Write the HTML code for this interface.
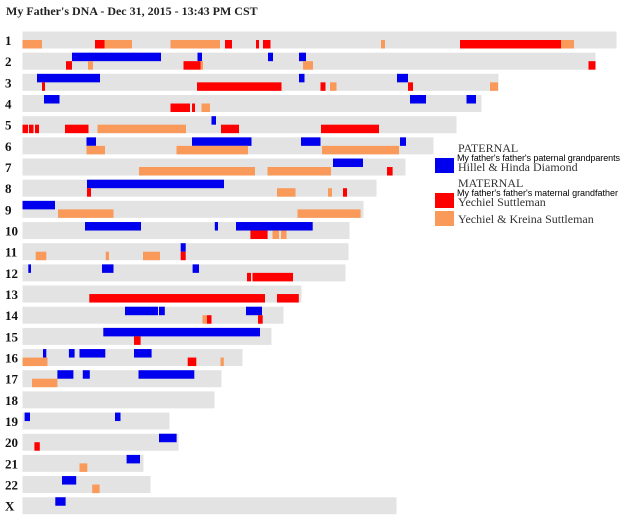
<!DOCTYPE html>
<html><head><meta charset="utf-8"><style>
body{margin:0;background:#fff;width:640px;height:525px;overflow:hidden}
svg{display:block}
</style></head><body>
<svg id="chart" width="640" height="525" xmlns="http://www.w3.org/2000/svg">
<text x="6" y="15" font-family="Liberation Serif, serif" font-weight="bold" font-size="12" fill="#222">My Father's DNA - Dec 31, 2015 - 13:43 PM CST</text>
<g font-family="Liberation Serif, serif" fill="#333">
<text x="458" y="152" font-size="12">PATERNAL</text>
<text x="457" y="161" font-size="9" font-family="Liberation Sans, sans-serif" fill="#000" textLength="163">My father's father's paternal grandparents</text>
<rect x="435" y="158" width="19" height="15" fill="#0000ee"/>
<text x="458" y="171" font-size="12">Hillel &amp; Hinda Diamond</text>
<text x="458" y="187" font-size="12">MATERNAL</text>
<text x="457" y="196" font-size="9" font-family="Liberation Sans, sans-serif" fill="#000" textLength="161">My father's father's maternal grandfather</text>
<rect x="435" y="193" width="19" height="15" fill="#ff0000"/>
<text x="458" y="206" font-size="12">Yechiel Suttleman</text>
<rect x="435" y="211" width="19" height="15" fill="#f9995a"/>
<text x="458" y="223" font-size="12">Yechiel &amp; Kreina Suttleman</text>
</g>
<g id="rows"></g>
</svg>
<script>
const chromosomes=["1","2","3","4","5","6","7","8","9","10","11","12","13","14","15","16","17","18","19","20","21","22","X"];
const chromLengths=[594,573,476,459,434,411,383,354,341,327,326,323,279,261,249,220,199,192,147,156,121,128,374];
// segments: [chromIndex, start, end, type(B/R/O)], blue = top half, red/orange = bottom half
const blueSegments=[
[1,49.5,138.5],[1,175,179.5],[1,245.5,250.5],[1,276.5,283.5],
[2,14.5,77.5],[2,276.5,282],[2,374.5,385.5],
[3,21.5,37],[3,387.5,403.5],[3,444,453.5],
[4,189,193.5],
[5,64,73.5],[5,169.5,229],[5,278.5,298],[5,377.5,383.5],
[6,310.5,340.5],
[7,64.5,201.5],
[8,0,32.5],
[9,62.5,118.5],[9,192.3,195.5],[9,213.5,290.2],
[10,158.2,163.2],
[11,5.8,8.5],[11,79.5,91],[11,170.1,176.5],
[13,102.5,135.5],[13,136.5,142.3],[13,223.5,239.5],
[14,80.8,237.5],
[15,20.5,23.8],[15,46.4,52.1],[15,57,82.8],[15,111.5,129.1],
[16,34.9,50.9],[16,60.3,67.3],[16,116,171.8],
[18,2.1,7.5],[18,92.5,98],
[19,136.5,154.1],
[20,104.1,117.5],
[21,39.5,53.7],
[22,32.8,43.1]
];
const redSegments=[
[0,72.5,82],[0,202.5,209.5],[0,233.5,236.5],[0,240.5,248],[0,437.5,538.5],
[1,43.5,49.5],[1,161,178],[1,566,573],
[2,19.5,22.5],[2,174.5,259],[2,298,303],[2,385.5,390.5],
[3,148,167.5],[3,169.5,172.5],
[4,0,5.5],[4,6.5,11],[4,12.5,16.5],[4,42.5,66],[4,198.5,216.5],[4,298.5,356.5],
[6,364.5,370.1],
[7,64.5,68.5],[7,320.5,324.5],
[9,227.9,245.1],
[10,158.2,163.2],
[11,224.5,228.5],[11,230,270.5],
[12,66.8,242.5],[12,254.5,276.3],
[13,184.5,189],[13,235.5,240.2],
[14,111.5,118.1],
[15,165.2,173.8],
[19,11.9,17.3]
];
const orangeSegments=[
[0,0,19.5],[0,82,109.5],[0,148,197.5],[0,358.5,362.5],[0,538.5,551.5],
[1,65.5,70.5],[1,178,180.5],[1,280.5,290.5],
[2,307.5,314],[2,467.5,475.5],
[3,179,187.5],
[4,75,163.5],
[5,64,82.5],[5,154,225.5],[5,299.5,376.5],
[6,116.5,232.5],[6,245,308.5],
[7,254.5,273],[7,305.5,309.5],
[8,35.5,91],[8,275,338.1],
[9,250,256.5],[9,258.5,264],
[10,13.2,23.8],[10,83.2,86.5],[10,120.5,137.5],
[13,180,184.5],
[15,0,25],[15,198,201.3],
[16,9.5,34.9],
[20,57,64.8],
[21,69.7,77.1]
];
const X0=22.5, KX=1, TOP=31.5, PITCH=21.17, H=17;
const xScale=v=>X0+v*KX;
const yScale=i=>TOP+i*PITCH;
const g=document.getElementById('rows');
const NS="http://www.w3.org/2000/svg";
function rect(x,y,w,h,fill){const r=document.createElementNS(NS,'rect');r.setAttribute('x',x);r.setAttribute('y',y);r.setAttribute('width',Math.max(w,1));r.setAttribute('height',h);r.setAttribute('fill',fill);g.appendChild(r);return r;}
chromosomes.forEach((c,i)=>{
  const t=document.createElementNS(NS,'text');
  t.setAttribute('x',5);t.setAttribute('y',yScale(i)+13.5);
  t.setAttribute('font-family','Liberation Serif, serif');t.setAttribute('font-weight','bold');t.setAttribute('font-size','13');t.setAttribute('fill','#111');
  t.textContent=c;
  
  
  g.appendChild(t);
  const r=rect(xScale(0),yScale(i),chromLengths[i]*KX,H,'#e3e3e3');
  
  
});
blueSegments.forEach(s=>{const r=rect(xScale(s[1]),yScale(s[0]),(s[2]-s[1])*KX,H/2,'#0000ee');

});
redSegments.forEach(s=>{const r=rect(xScale(s[1]),yScale(s[0])+H/2,(s[2]-s[1])*KX,H/2,'#ff0000');

});
orangeSegments.forEach(s=>{const r=rect(xScale(s[1]),yScale(s[0])+H/2,(s[2]-s[1])*KX,H/2,'#f9995a');

});
</script>
</body></html>
